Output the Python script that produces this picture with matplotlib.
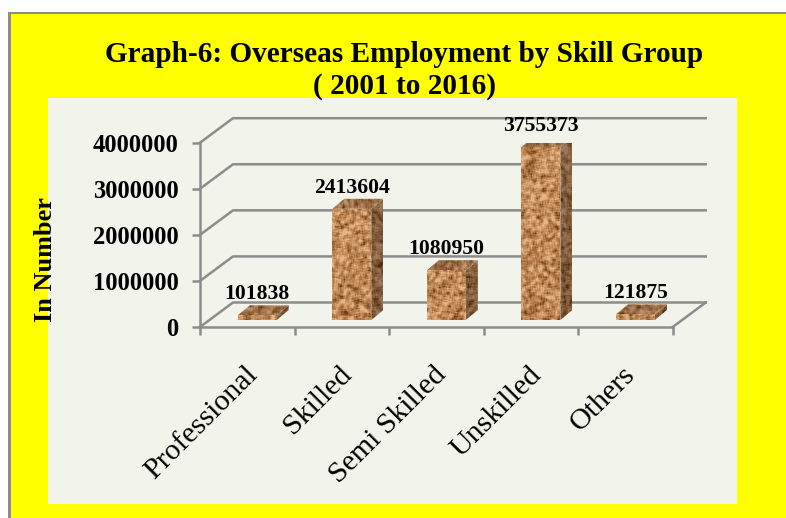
"""Overseas employment by skill group, fake 3D column chart."""
import numpy as np
import matplotlib
matplotlib.use('Agg')
import matplotlib.pyplot as plt
from matplotlib.colors import LinearSegmentedColormap
from matplotlib.patches import Polygon, Rectangle

W, H = 786, 518

categories = ["Professional", "Skilled", "Semi Skilled", "Unskilled", "Others"]
values = [101838, 2413604, 1080950, 3755373, 121875]
y_ticks = [0, 1000000, 2000000, 3000000, 4000000]

YELLOW = "#FFFF00"
PANEL = "#F2F4EC"
GRID = "#8C8C8C"
SERIF = "Liberation Serif"

plt.rcParams['font.family'] = [SERIF, 'DejaVu Serif']

# plot box in pixels (front plane of the 3D box)
LEFT, RIGHT, BOTTOM, TOP = 200.0, 672.7, 327.0, 142.7
PX = len(categories) / (RIGHT - LEFT)
PY = y_ticks[-1] / (BOTTOM - TOP)

# depth of the chart box and of the bars
BOX_DX, BOX_DY = 33 * PX, 24.5 * PY
BAR_DX, BAR_DY = 12 * PX, 10 * PY
BAR_W = 39 * PX
BAR_SHIFT = 10 * PX
BAR_LIFT = 7 * PY

cork = LinearSegmentedColormap.from_list(
    "cork", ["#6E3F1C", "#A86F3E", "#C8925F", "#E6B68A"])


def noise(h, w, seed):
    # hashed noise with a small blur, gives the mottled cork look
    yy, xx = np.mgrid[0:h, 0:w]
    n = np.sin(xx * 12.9898 + yy * 78.233 + seed * 37.719) * 43758.5453
    n = n - np.floor(n)
    out = np.zeros_like(n)
    for dy in range(-1, 3):
        for dx in range(-1, 3):
            out += np.roll(np.roll(n, dy, axis=0), dx, axis=1)
    out = (out - out.mean()) / out.std()
    return np.clip(0.58 + out * 0.22, 0, 1)


def face(ax, pts, seed, shade):
    # textured polygon: image clipped to the face outline
    pts = np.array(pts)
    x0, x1 = pts[:, 0].min(), pts[:, 0].max()
    y0, y1 = pts[:, 1].min(), pts[:, 1].max()
    w = max(int((x1 - x0) / PX) + 1, 2)
    h = max(int((y1 - y0) / PY) + 1, 2)
    rgb = cork(noise(h, w, seed))[:, :, :3] * shade
    im = ax.imshow(rgb, extent=(x0, x1, y0, y1), aspect='auto', zorder=3,
                   interpolation='bilinear')
    im.set_clip_path(Polygon(pts, transform=ax.transData))


fig = plt.figure(figsize=(W / 100, H / 100), dpi=100, facecolor="white")

# page frame and chart panel
bg = fig.add_axes([0, 0, 1, 1])
bg.set_xlim(0, W)
bg.set_ylim(H, 0)
bg.axis('off')
bg.add_patch(Rectangle((8, 12), W - 8, H - 12, facecolor=GRID, edgecolor='none'))
bg.add_patch(Rectangle((11, 14), W - 11, H - 14, facecolor=YELLOW, edgecolor='none'))
bg.add_patch(Rectangle((48, 98), 689, 406, facecolor=PANEL, edgecolor='none'))

fig.text(404 / W, 1 - 55 / H, "Graph-6: Overseas Employment by Skill Group",
         ha='center', va='center', fontsize=21.1, fontweight='bold')
fig.text(404 / W, 1 - 86 / H, "( 2001 to 2016)",
         ha='center', va='center', fontsize=21.1, fontweight='bold')

ax = fig.add_axes([LEFT / W, 1 - BOTTOM / H, (RIGHT - LEFT) / W, (BOTTOM - TOP) / H])
ax.patch.set_alpha(0)

# walls and floor
for v in y_ticks:
    ax.plot([0, BOX_DX, len(categories) + BOX_DX], [v, v + BOX_DY, v + BOX_DY],
            color=GRID, lw=1.8, clip_on=False, zorder=1)
ax.plot([len(categories), len(categories) + BOX_DX], [0, BOX_DY],
        color=GRID, lw=1.8, clip_on=False, zorder=1)

# bars
for i, val in enumerate(values):
    x0 = i + 0.5 + BAR_SHIFT - BAR_W / 2
    x1 = x0 + BAR_W
    y0 = BAR_LIFT
    y1 = BAR_LIFT + val
    face(ax, [(x0, y0), (x1, y0), (x1, y1), (x0, y1)], i * 3 + 1, 1.0)
    face(ax, [(x1, y0), (x1 + BAR_DX, y0 + BAR_DY), (x1 + BAR_DX, y1 + BAR_DY), (x1, y1)],
         i * 3 + 2, 0.68)
    face(ax, [(x0, y1), (x1, y1), (x1 + BAR_DX, y1 + BAR_DY), (x0 + BAR_DX, y1 + BAR_DY)],
         i * 3 + 3, 0.82)
    ax.text((x0 + x1) / 2, y1 + BAR_DY + 11 * PY, str(val), ha='center', va='center',
            fontsize=15.6, fontweight='bold', zorder=5)

ax.set_xlim(0, len(categories))
ax.set_ylim(0, y_ticks[-1])

for side in ('top', 'right'):
    ax.spines[side].set_visible(False)
for side in ('left', 'bottom'):
    ax.spines[side].set_color(GRID)
    ax.spines[side].set_linewidth(1.8)
    ax.spines[side].set_zorder(2)

ax.set_yticks(y_ticks)
ax.set_yticklabels([str(v) for v in y_ticks], fontsize=17.7, fontweight='bold')
ax.tick_params(axis='y', length=6, width=1.8, color=GRID, pad=9.5)

ax.set_xticks(range(len(categories) + 1))
ax.set_xticklabels([])
ax.set_xticks(np.arange(len(categories)) + 0.5 - 3 * PX, minor=True)
ax.set_xticklabels(categories, minor=True, rotation=45, ha='right', va='top',
                   rotation_mode='anchor', fontsize=21.5)
ax.tick_params(axis='x', which='major', length=6, width=1.8, color=GRID)
ax.tick_params(axis='x', which='minor', length=0, pad=25)

fig.text(46 / W, 1 - 260 / H, "In Number", rotation=90, ha='center', va='center',
         fontsize=18.9, fontweight='bold')

fig.savefig("out.png", dpi=100, facecolor=fig.get_facecolor())
